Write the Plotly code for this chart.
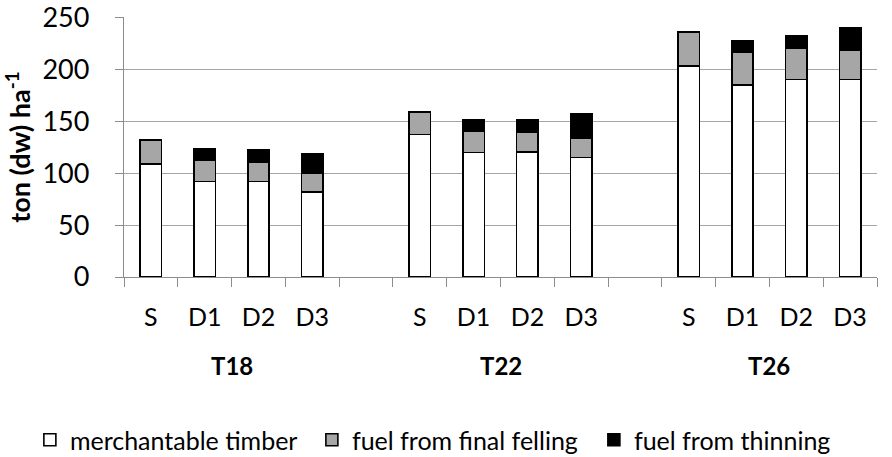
import plotly.graph_objects as go

groups = ["T18", "T22", "T26"]
treatments = ["S", "D1", "D2", "D3"]

merchantable = [109, 92, 92, 82, 137, 120, 120.5, 115, 203, 185, 190, 190]
fuel_final = [23, 20, 19, 18, 22, 20, 19, 19, 33, 31, 30, 28]
fuel_thinning = [0, 11, 11, 19, 0, 11, 11.5, 23, 0, 11.5, 12, 22]

series_names = ["merchantable timber", "fuel from final felling", "fuel from thinning"]
series_colors = ["#ffffff", "#a6a6a6", "#000000"]

y_ticks = [0, 50, 100, 150, 200, 250]

# slot positions: 4 bars per group, one empty slot between groups
slots_per_group = len(treatments) + 1
x_pos = [g * slots_per_group + i for g in range(len(groups)) for i in range(len(treatments))]
labels = [t for g in groups for t in treatments]
n_slots = len(groups) * slots_per_group - 1
boundaries = [k - 0.5 for k in range(n_slots + 1)]

FONT = "Lato, 'Open Sans', sans-serif"

fig = go.Figure()
for name, vals, col in zip(series_names, [merchantable, fuel_final, fuel_thinning], series_colors):
    fig.add_trace(go.Bar(
        x=x_pos, y=vals, name=name, width=0.4,
        marker=dict(color=col, line=dict(color="#000000", width=1.6)),
    ))

for g, name in enumerate(groups):
    center = g * slots_per_group + (len(treatments) - 1) / 2
    fig.add_annotation(x=center, y=0, xref="x", yref="paper", yshift=-88,
                       yanchor="middle", text="<b>%s</b>" % name, showarrow=False,
                       font=dict(family=FONT, size=24, color="#000000"))

fig.update_layout(
    barmode="stack",
    width=892, height=457,
    margin=dict(l=124, r=15, t=17, b=180, autoexpand=False),
    plot_bgcolor="#ffffff", paper_bgcolor="#ffffff",
    font=dict(family=FONT, color="#000000"),
    showlegend=True,
    legend=dict(orientation="h", xref="paper", yref="paper",
                x=-0.125, xanchor="left", y=-0.627, yanchor="middle",
                traceorder="normal", font=dict(family=FONT, size=25, color="#000000"),
                entrywidth=237, entrywidthmode="pixels"),
)

fig.update_xaxes(
    range=[-0.5, n_slots - 0.5],
    tickmode="array", tickvals=x_pos, ticktext=labels,
    ticks="", showgrid=False, zeroline=False,
    showline=True, linecolor="#8c8c8c", linewidth=1.3,
    tickfont=dict(family=FONT, size=25, color="#000000"),
    minor=dict(tickmode="array", tickvals=boundaries, ticks="outside", ticklen=9,
               tickcolor="#8c8c8c", tickwidth=1.3, showgrid=False),
    ticklabelstandoff=18,
)
fig.update_yaxes(
    range=[0, 250.3], tickmode="array", tickvals=y_ticks,
    showgrid=True, gridcolor="#a6a6a6", gridwidth=1.3,
    zeroline=False, showline=True, linecolor="#8c8c8c", linewidth=1.3,
    ticks="outside", ticklen=8, tickcolor="#8c8c8c", tickwidth=1.3,
    ticklabeloverflow="allow", ticklabelstandoff=20,
    tickfont=dict(family=FONT, size=27, color="#000000"),
    title=dict(text="<b>ton (dw) ha<sup>-1</sup></b>", font=dict(family=FONT, size=27, color="#000000"),
               standoff=6),
)

fig.write_html("out.html", config={"displayModeBar": False},
               post_script="document.body.style.margin='0';")
